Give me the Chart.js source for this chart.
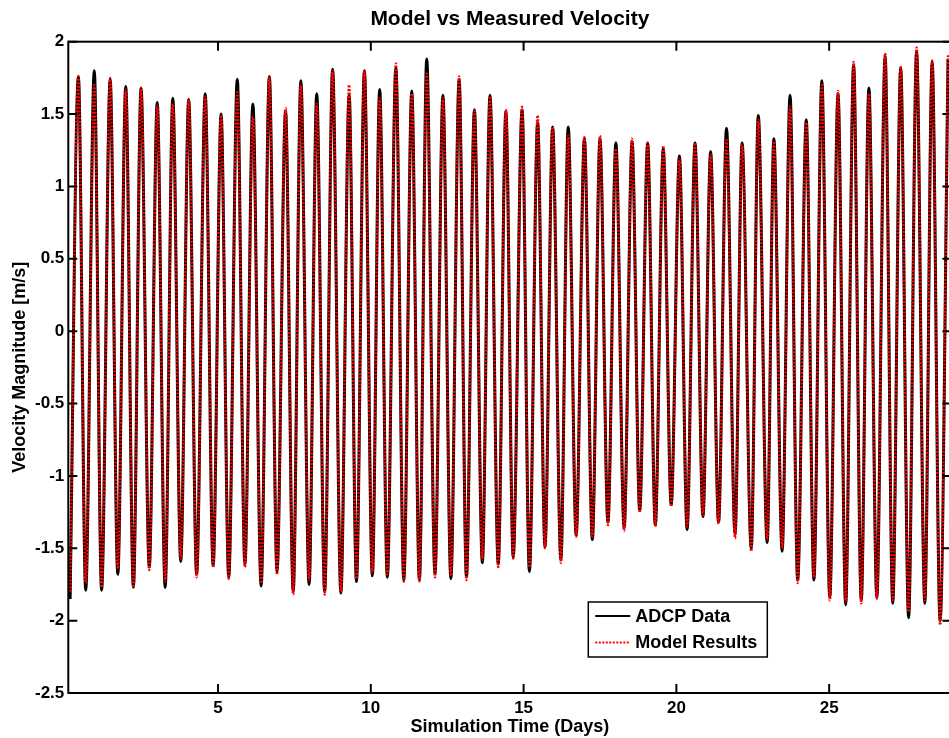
<!DOCTYPE html>
<html>
<head>
<meta charset="utf-8">
<title>Model vs Measured Velocity</title>
<script src="https://cdn.jsdelivr.net/npm/chart.js@4.4.1/dist/chart.umd.min.js"></script>
<style>
html, body { margin: 0; padding: 0; background: #fff; overflow: hidden; }
#wrap { position: relative; width: 955px; height: 738px; }
</style>
</head>
<body>
<div id="wrap"><canvas id="velChart"></canvas></div>
<script>
// tick labels
var xTicks = [5, 10, 15, 20, 25];
var yTicks = [-2.5, -2, -1.5, -1, -0.5, 0, 0.5, 1, 1.5, 2];

// times (days) of each flood peak and ebb trough
var peakDays = [0.43, 0.95, 1.47, 1.98, 2.48, 3.01, 3.52, 4.04, 4.58, 5.10, 5.63, 6.14, 6.68, 7.21,
    7.71, 8.23, 8.75, 9.29, 9.79, 10.29, 10.82, 11.34, 11.83, 12.36, 12.89, 13.39, 13.90, 14.42,
    14.95, 15.46, 15.95, 16.46, 16.99, 17.50, 18.02, 18.55, 19.06, 19.57, 20.10, 20.61, 21.12, 21.64,
    22.15, 22.68, 23.19, 23.72, 24.25, 24.76, 25.29, 25.80, 26.30, 26.83, 27.34, 27.86, 28.37, 28.89];
var troughDays = [0.16, 0.67, 1.19, 1.72, 2.23, 2.75, 3.27, 3.78, 4.30, 4.84, 5.35, 5.88, 6.41, 6.93,
    7.46, 7.98, 8.49, 9.02, 9.53, 10.05, 10.54, 11.08, 11.59, 12.10, 12.62, 13.13, 13.65, 14.17,
    14.66, 15.19, 15.70, 16.22, 16.72, 17.25, 17.76, 18.29, 18.80, 19.31, 19.83, 20.35, 20.87, 21.38,
    21.92, 22.45, 22.97, 23.46, 23.97, 24.50, 25.02, 25.54, 26.05, 26.56, 27.08, 27.60, 28.13, 28.63];

// ADCP Data
var adcpPeaks = [1.76, 1.80, 1.74, 1.69, 1.68, 1.58, 1.61, 1.60, 1.64, 1.50, 1.74, 1.57, 1.76, 1.52,
    1.73, 1.64, 1.81, 1.63, 1.80, 1.67, 1.82, 1.66, 1.88, 1.63, 1.74, 1.53, 1.63, 1.52,
    1.53, 1.44, 1.41, 1.41, 1.33, 1.33, 1.30, 1.31, 1.30, 1.26, 1.21, 1.30, 1.24, 1.40,
    1.30, 1.49, 1.33, 1.63, 1.46, 1.73, 1.64, 1.84, 1.68, 1.90, 1.82, 1.93, 1.86, 1.88];
var adcpTroughs = [-1.85, -1.79, -1.79, -1.68, -1.77, -1.63, -1.77, -1.59, -1.68, -1.62, -1.70, -1.61, -1.76, -1.66,
    -1.80, -1.75, -1.80, -1.81, -1.73, -1.69, -1.70, -1.72, -1.72, -1.68, -1.71, -1.70, -1.60, -1.61,
    -1.56, -1.66, -1.49, -1.58, -1.41, -1.44, -1.32, -1.36, -1.24, -1.34, -1.20, -1.37, -1.28, -1.32,
    -1.40, -1.50, -1.46, -1.52, -1.72, -1.72, -1.84, -1.89, -1.86, -1.84, -1.88, -1.98, -1.88, -2.00];

// Model Results
var modelPeaks = [1.76, 1.70, 1.75, 1.67, 1.68, 1.56, 1.57, 1.60, 1.62, 1.49, 1.65, 1.48, 1.76, 1.54,
    1.70, 1.57, 1.80, 1.70, 1.80, 1.61, 1.85, 1.64, 1.78, 1.61, 1.76, 1.52, 1.62, 1.53,
    1.55, 1.49, 1.41, 1.35, 1.34, 1.35, 1.26, 1.33, 1.30, 1.28, 1.19, 1.30, 1.22, 1.32,
    1.29, 1.46, 1.31, 1.55, 1.44, 1.70, 1.66, 1.86, 1.64, 1.92, 1.83, 1.96, 1.87, 1.91];
var modelTroughs = [-1.80, -1.74, -1.77, -1.64, -1.77, -1.65, -1.73, -1.57, -1.70, -1.63, -1.71, -1.63, -1.74, -1.68,
    -1.82, -1.72, -1.82, -1.80, -1.71, -1.67, -1.68, -1.73, -1.73, -1.70, -1.69, -1.72, -1.58, -1.63,
    -1.57, -1.63, -1.50, -1.60, -1.42, -1.42, -1.34, -1.38, -1.25, -1.35, -1.21, -1.35, -1.27, -1.33,
    -1.43, -1.52, -1.44, -1.50, -1.74, -1.70, -1.86, -1.87, -1.88, -1.85, -1.86, -1.94, -1.86, -2.03];

var FONT = '"Liberation Sans", Arial, Helvetica, sans-serif';

// trough, peak, trough, peak ... in time order
function buildSeries(troughs, peaks) {
    var pts = [];
    for (var i = 0; i < troughDays.length; i++) {
        pts.push({ x: troughDays[i], y: troughs[i] });
        if (i < peakDays.length) pts.push({ x: peakDays[i], y: peaks[i] });
    }
    return pts;
}

// box, inward ticks on all four sides, legend inside the axes
var matlabAxes = {
    id: 'matlabAxes',
    afterDatasetsDraw: function(chart) {
        var ctx = chart.ctx;
        var a = chart.chartArea;
        var xs = chart.scales.x, ys = chart.scales.y;
        var tl = 9;
        ctx.save();
        ctx.strokeStyle = '#000';
        ctx.lineWidth = 2;
        ctx.strokeRect(a.left, a.top, a.right - a.left, a.bottom - a.top);
        ctx.beginPath();
        xTicks.forEach(function(v) {
            var px = xs.getPixelForValue(v);
            ctx.moveTo(px, a.bottom); ctx.lineTo(px, a.bottom - tl);
            ctx.moveTo(px, a.top); ctx.lineTo(px, a.top + tl);
        });
        yTicks.forEach(function(v) {
            var py = ys.getPixelForValue(v);
            ctx.moveTo(a.left, py); ctx.lineTo(a.left + tl, py);
            ctx.moveTo(a.right, py); ctx.lineTo(a.right - tl, py);
        });
        ctx.stroke();

        // legend
        var bx = a.left + 520, by = a.bottom - 91, bw = 179, bh = 55;
        ctx.fillStyle = '#fff';
        ctx.fillRect(bx, by, bw, bh);
        ctx.lineWidth = 1.5;
        ctx.strokeRect(bx, by, bw, bh);
        var sets = [chart.data.datasets[0], chart.data.datasets[1]];
        ctx.font = 'bold 18px ' + FONT;
        ctx.textBaseline = 'middle';
        ctx.textAlign = 'left';
        sets.forEach(function(ds, i) {
            var ly = by + 14 + i * 26.5;
            ctx.beginPath();
            ctx.strokeStyle = ds.borderColor;
            ctx.lineWidth = 2;
            ctx.setLineDash(ds.borderDash || []);
            ctx.moveTo(bx + 7, ly);
            ctx.lineTo(bx + 42, ly);
            ctx.stroke();
            ctx.setLineDash([]);
            ctx.fillStyle = '#000';
            ctx.fillText(ds.label, bx + 47, ly + 1);
        });
        ctx.restore();
    }
};

var ctx = document.getElementById('velChart').getContext('2d');
var velChart = new Chart(ctx, {
    type: 'line',
    data: {
        datasets: [
            {
                label: 'ADCP Data',
                data: buildSeries(adcpTroughs, adcpPeaks),
                borderColor: '#000000',
                borderWidth: 3,
                pointRadius: 0,
                cubicInterpolationMode: 'monotone',
                order: 2
            },
            {
                label: 'Model Results',
                data: buildSeries(modelTroughs, modelPeaks),
                borderColor: '#ff0000',
                borderWidth: 2.5,
                borderDash: [2, 1.5],
                pointRadius: 0,
                cubicInterpolationMode: 'monotone',
                order: 1
            }
        ]
    },
    options: {
        responsive: true,
        maintainAspectRatio: false,
        animation: false,
        events: [],
        layout: { padding: { left: 0, right: 3.6, top: 0, bottom: 0 } },
        plugins: {
            legend: { display: false },
            tooltip: { enabled: false },
            title: {
                display: true,
                fullSize: false,
                text: 'Model vs Measured Velocity',
                color: '#000',
                font: { family: FONT, size: 21, weight: 'bold' },
                padding: { top: 7, bottom: 9.5 }
            }
        },
        scales: {
            x: {
                type: 'linear',
                min: 0.1,
                max: 29,
                afterBuildTicks: function(scale) {
                    scale.ticks = xTicks.map(function(v) { return { value: v }; });
                },
                afterFit: function(scale) { scale.height = 45; },
                grid: { display: false, drawTicks: false },
                border: { display: false },
                ticks: {
                    color: '#000',
                    padding: 5,
                    maxRotation: 0,
                    autoSkip: false,
                    callback: function(v) { return String(v); },
                    font: { family: FONT, size: 17, weight: 'bold' }
                },
                title: {
                    display: true,
                    text: 'Simulation Time (Days)',
                    color: '#000',
                    padding: { top: 0, bottom: 0 },
                    font: { family: FONT, size: 18, weight: 'bold' }
                }
            },
            y: {
                type: 'linear',
                min: -2.5,
                max: 2,
                afterBuildTicks: function(scale) {
                    scale.ticks = yTicks.map(function(v) { return { value: v }; });
                },
                afterFit: function(scale) { scale.width = 68.3; },
                grid: { display: false, drawTicks: false },
                border: { display: false },
                ticks: {
                    color: '#000',
                    padding: 4,
                    autoSkip: false,
                    callback: function(v) { return String(v); },
                    font: { family: FONT, size: 17, weight: 'bold' }
                },
                title: {
                    display: true,
                    text: 'Velocity Magnitude [m/s]',
                    color: '#000',
                    padding: { top: 9, bottom: 0 },
                    font: { family: FONT, size: 18, weight: 'bold' }
                }
            }
        }
    },
    plugins: [matlabAxes]
});
</script>
</body>
</html>
